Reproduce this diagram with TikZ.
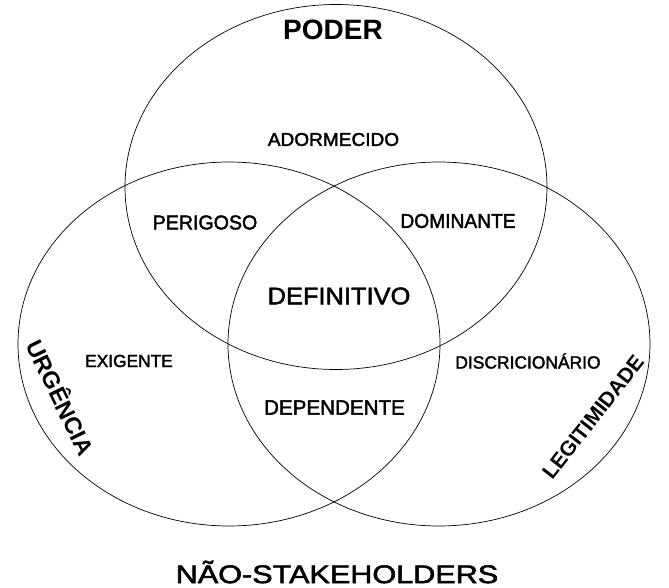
\documentclass[tikz,border=0pt]{standalone}
\usepackage{fontspec}
\setmainfont{Liberation Sans}
\newfontfamily\medfont{Liberation Sans}[FakeBold=2]
\usepackage{graphicx}
\newcommand{\stx}[3]{{\fontsize{#1}{#1}\selectfont\scalebox{#2}[1]{#3}}}
\tikzset{
  set/.style={draw=black, line width=0.7pt},
  lbl/.style={inner sep=0pt, text=black},
  reg/.style={lbl, font=\medfont},
}
\begin{document}
\begin{tikzpicture}[x=1pt, y=-1pt]
\useasboundingbox (0,0) rectangle (669,588);
\fill[white] (0,0) rectangle (669,588);
% sets
\draw[set] (336,187) ellipse [x radius=211pt, y radius=182.5pt];
\draw[set] (229,344) ellipse [x radius=211pt, y radius=182pt];
\draw[set] (439,344) ellipse [x radius=211pt, y radius=182pt];
% set titles
\node[lbl] (poder) at (333,30) {\stx{28}{1}{\bfseries PODER}};
\node[lbl, rotate=-64] (urg) at (62,397) {\stx{23.5}{1}{\bfseries URGÊNCIA}};
\node[lbl, rotate=52] (leg) at (593,417) {\stx{21}{1}{\bfseries LEGITIMIDADE}};
% regions
\node[reg] (ador) at (333.5,139.5) {\stx{18.5}{1.03}{ADORMECIDO}};
\node[reg] (peri) at (205,222.5) {\stx{20}{0.98}{PERIGOSO}};
\node[reg] (domi) at (458,221) {\stx{20}{0.96}{DOMINANTE}};
\node[reg] (defi) at (339,296) {\stx{24}{1.06}{DEFINITIVO}};
\node[reg] (exig) at (129,361) {\stx{17.5}{0.99}{EXIGENTE}};
\node[reg] (disc) at (528,361) {\stx{17.6}{0.99}{DISCRICIONÁRIO}};
\node[reg] (depe) at (334.5,407.5) {\stx{20.8}{0.99}{DEPENDENTE}};
\node[reg] (nao) at (337,572) {\stx{25.5}{1.2}{NÃO-STAKEHOLDERS}};
\end{tikzpicture}
\end{document}
